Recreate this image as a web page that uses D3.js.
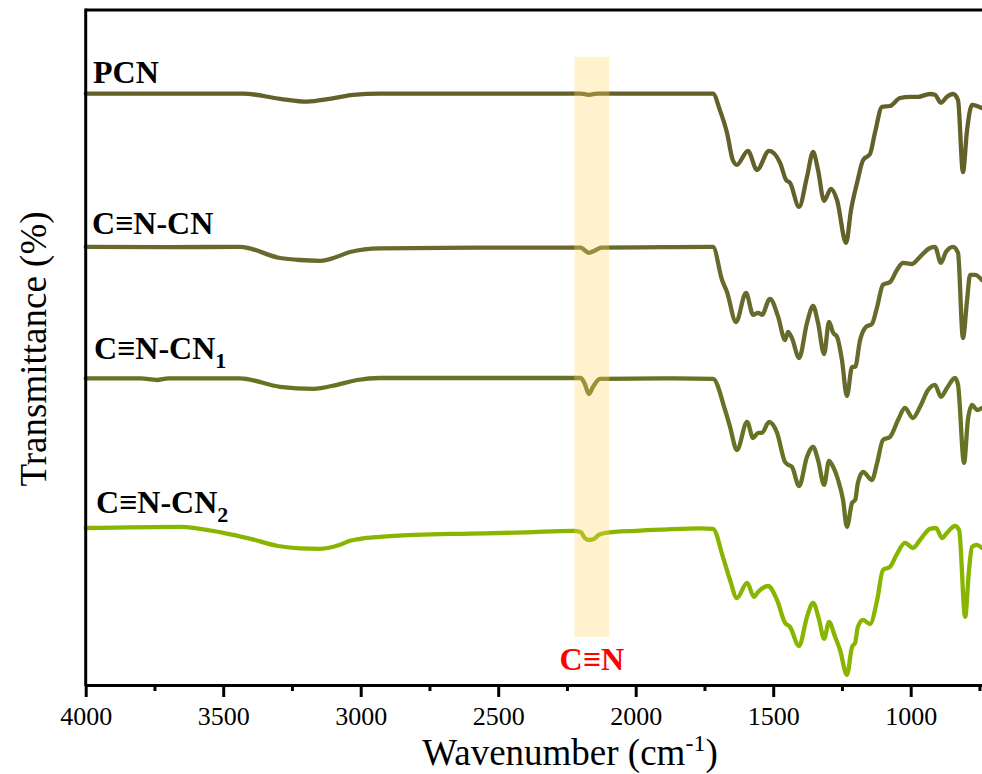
<!DOCTYPE html>
<html>
<head>
<meta charset="utf-8">
<script src="https://cdn.jsdelivr.net/npm/d3@7/dist/d3.min.js"></script>
<style>
  body { margin: 0; background: #fff; }
  svg { display: block; }
  svg text { font-family: "Liberation Serif", "Times New Roman", serif; }
</style>
</head>
<body>
<svg id="chart"></svg>
<script>
// FTIR spectra, [wavenumber (cm-1), transmittance (a.u., stacked)]
const pcn = [
  [4000,148.1],[3700,148.1],[3428,148.1],[3293,146.8],[3195,146.1],[3112,146.8],[3028,147.8],[2930,148.1],
  [2500,148.1],[2200,148.1],[2170,147.8],[2140,148.1],[1900,148.1],[1719,148.1],
  [1694,144],[1668,138.3],[1647,131.5],[1632,130.3],[1592,133.8],[1559,129],[1515,133.8],[1475,130.8],
  [1453,126.5],[1439,125.8],[1406,119.8],[1377,127.3],[1355,133.5],[1337,129],[1315,121.3],[1290,124.3],
  [1268,121.5],[1235,110.8],[1217,119],[1195,125.8],[1173,131.5],[1148,133],[1130,138.3],[1104,144.8],
  [1075,145],[1039,147],[1002,147.3],[973,147.3],[930,148],[912,147.8],[890,145.8],[868,147.3],
  [846,148],[828,146.5],[810,128.5],[795,139],[777,145.3],[741,144.5]
];
const cn = [
  [4000,109.8],[3700,109.7],[3439,109.8],[3293,107],[3221,106.5],[3148,106.3],[3086,107.3],[3039,108.5],
  [2930,109.4],[2500,109.6],[2200,109.6],[2185,108.9],[2170,108.3],[2150,108.8],[2125,109.6],[1900,109.7],
  [1719,109.8],[1686,101.5],[1668,98.5],[1635,91],[1599,98.3],[1573,92.8],[1555,93.3],[1541,92.8],
  [1512,96.8],[1482,92.3],[1457,86.5],[1446,88.5],[1432,87],[1406,82],[1377,90.8],[1355,95],[1337,90.8],
  [1315,83],[1297,91],[1282,88.3],[1268,87.3],[1250,81.5],[1232,72.5],[1213,79.8],[1202,79.8],
  [1184,86.5],[1162,89.8],[1141,90.5],[1122,94.8],[1101,100.3],[1075,101],[1050,104],[1028,105.8],
  [995,105.5],[966,107.3],[930,109.5],[912,109.8],[890,105.8],[872,108.5],[846,109.8],[828,108.3],
  [810,87],[795,96.5],[784,102.8],[766,102.8],[741,101.5]
];
const cn1 = [
  [4000,76.9],[3800,76.9],[3741,76.5],[3700,76.9],[3439,76.9],[3293,74.8],[3173,74.3],[3086,75.3],
  [3013,76.5],[2930,77],[2500,77],[2200,77],[2185,75.5],[2170,73],[2155,74.8],[2130,76.8],[1900,76.9],
  [1719,76.8],[1675,69],[1657,64.8],[1632,59],[1595,66],[1573,62],[1555,63.3],[1541,63.3],[1515,66],
  [1486,63.3],[1457,56],[1446,55.3],[1432,54.8],[1406,50],[1377,57.3],[1355,59.8],[1337,56.5],[1315,50.3],
  [1297,56.3],[1282,54.8],[1264,51.5],[1246,46.5],[1232,39.8],[1213,45.8],[1202,46.5],[1192,50.8],
  [1173,53.5],[1141,51.5],[1122,55.8],[1101,61.5],[1075,62.3],[1046,66.5],[1021,69.5],[992,67],
  [966,69.8],[937,74],[912,75.3],[890,72.3],[868,74.5],[839,77],[828,75.3],[806,55.8],[792,66.5],
  [777,70.3],[759,69],[741,69.5]
];
const cn2 = [
  [4000,39.5],[3657,39.8],[3500,38.3],[3400,36.8],[3300,35],[3221,34.4],[3148,34.3],[3075,35.3],
  [3039,36.3],[3002,36.8],[2930,37.3],[2800,37.8],[2600,38.1],[2400,38.4],[2230,38.8],[2200,38.5],
  [2185,37],[2170,36.5],[2150,36.8],[2135,37.8],[2110,38.3],[2000,38.8],[1900,39.1],[1766,39.4],
  [1719,39.3],[1683,32.3],[1657,26.5],[1632,22],[1595,25.8],[1570,22.3],[1555,23.5],[1519,25],
  [1486,21.5],[1457,15.8],[1439,14.8],[1406,10],[1377,17.3],[1355,20.8],[1333,16.5],[1315,11.8],
  [1297,16],[1275,12.3],[1257,9],[1232,2.8],[1213,9.8],[1202,10.8],[1192,14.8],[1173,16.5],[1148,15.5],
  [1122,21.5],[1101,29],[1075,29.8],[1050,33],[1021,35.8],[992,34.5],[966,36.5],[930,39.3],[908,39.5],
  [886,37],[868,38.3],[839,40],[824,39],[802,17.3],[788,29],[777,34.8],[759,35.3],[741,34.5]
];

const seriesNames = ['PCN', 'C\u2261N-CN', 'C\u2261N-CN', 'C\u2261N-CN'];
const seriesSubs = ['', '', '1', '2'];
const xTicks = [4000, 3500, 3000, 2500, 2000, 1500, 1000];
const xMinorTicks = [3750, 3250, 2750, 2250, 1750, 1250, 750];
const bandRange = [2223, 2096];
const bandSpan = [157.3, 12.3];

const width = 982, height = 774;
const margin = {top: 10, left: 85.7, bottom: 88};
const serif = '"Liberation Serif", "Times New Roman", serif';

const svg = d3.select('#chart').attr('width', width).attr('height', height);

// x-range (plot runs past the right edge, as in the original crop)
const x = d3.scaleLinear()
  .domain([4000, 700])
  .range([margin.left, margin.left + 3300 * 0.275]);

// y-range
const y = d3.scaleLinear()
  .domain([0, 169])
  .range([height - margin.bottom, margin.top]);

const colors = ['#63602a', '#676a2c', '#687224', '#88b600'];
const allSeries = [pcn, cn, cn1, cn2];

const line = d3.line()
  .x(d => x(d[0]))
  .y(d => y(d[1]))
  .curve(d3.curveMonotoneX);

// spectra
svg.append('g')
  .selectAll('path')
  .data(allSeries)
  .join('path')
    .attr('fill', 'none')
    .attr('stroke', (d, i) => colors[i])
    .attr('stroke-width', 4.3)
    .attr('stroke-linejoin', 'round')
    .attr('stroke-linecap', 'round')
    .attr('d', line);

// C≡N band
svg.append('rect')
  .attr('x', x(bandRange[0]))
  .attr('width', x(bandRange[1]) - x(bandRange[0]))
  .attr('y', y(bandSpan[0]))
  .attr('height', y(bandSpan[1]) - y(bandSpan[0]))
  .attr('fill', '#ffd764')
  .attr('opacity', 0.32);

svg.append('text')
  .attr('x', x((bandRange[0] + bandRange[1]) / 2))
  .attr('y', 670)
  .attr('text-anchor', 'middle')
  .attr('font-size', 32)
  .attr('font-weight', 'bold')
  .attr('fill', '#ff0000')
  .text('C\u2261N');

// series labels
const labelDy = [10.5, 13, 19, 15];
const labelX = [93, 92, 94, 96];
allSeries.forEach((s, i) => {
  const t = svg.append('text')
    .attr('x', labelX[i])
    .attr('y', y(s[0][1]) - labelDy[i])
    .attr('font-size', 32)
    .attr('font-weight', 'bold')
    .attr('fill', '#000')
    .text(seriesNames[i]);
  if (seriesSubs[i]) {
    t.append('tspan')
      .attr('font-size', 22)
      .attr('dy', 9)
      .text(seriesSubs[i]);
  }
});

// x-axis
const xAxis = svg.append('g')
  .attr('transform', `translate(0, ${height - margin.bottom - 1})`)
  .call(d3.axisBottom(x).tickValues(xTicks).tickSize(12).tickSizeOuter(0).tickFormat(d3.format('d')))
  .attr('font-family', serif)
  .style('font-family', serif)
  .style('color', 'black');
xAxis.select('.domain').attr('stroke-width', 3);
xAxis.selectAll('.tick line').attr('stroke-width', 3);
xAxis.selectAll('.tick text')
  .attr('y', 40)
  .attr('dy', 0)
  .attr('font-size', 26)
  .style('font-family', serif);

svg.append('g')
  .attr('transform', `translate(0, ${height - margin.bottom - 1})`)
  .call(d3.axisBottom(x).tickValues(xMinorTicks).tickSize(6).tickSizeOuter(0).tickFormat(''))
  .call(g => g.select('.domain').remove())
  .selectAll('.tick line').attr('stroke-width', 3);

// frame: left and top
svg.append('line')
  .attr('x1', margin.left).attr('x2', margin.left)
  .attr('y1', margin.top - 1.5).attr('y2', height - margin.bottom)
  .attr('stroke', 'black').attr('stroke-width', 3);
svg.append('line')
  .attr('x1', margin.left).attr('x2', width + 10)
  .attr('y1', margin.top).attr('y2', margin.top)
  .attr('stroke', 'black').attr('stroke-width', 3);

// axis titles
const xTitle = svg.append('text')
  .attr('x', 570)
  .attr('y', 765)
  .attr('text-anchor', 'middle')
  .attr('font-size', 37)
  .text('Wavenumber (cm');
xTitle.append('tspan').attr('font-size', 24).attr('dy', -14).text('-1');
xTitle.append('tspan').attr('dy', 14).text(')');

svg.append('text')
  .attr('transform', 'translate(46, 349) rotate(-90)')
  .attr('text-anchor', 'middle')
  .attr('font-size', 37)
  .text('Transmittance (%)');
</script>
</body>
</html>
